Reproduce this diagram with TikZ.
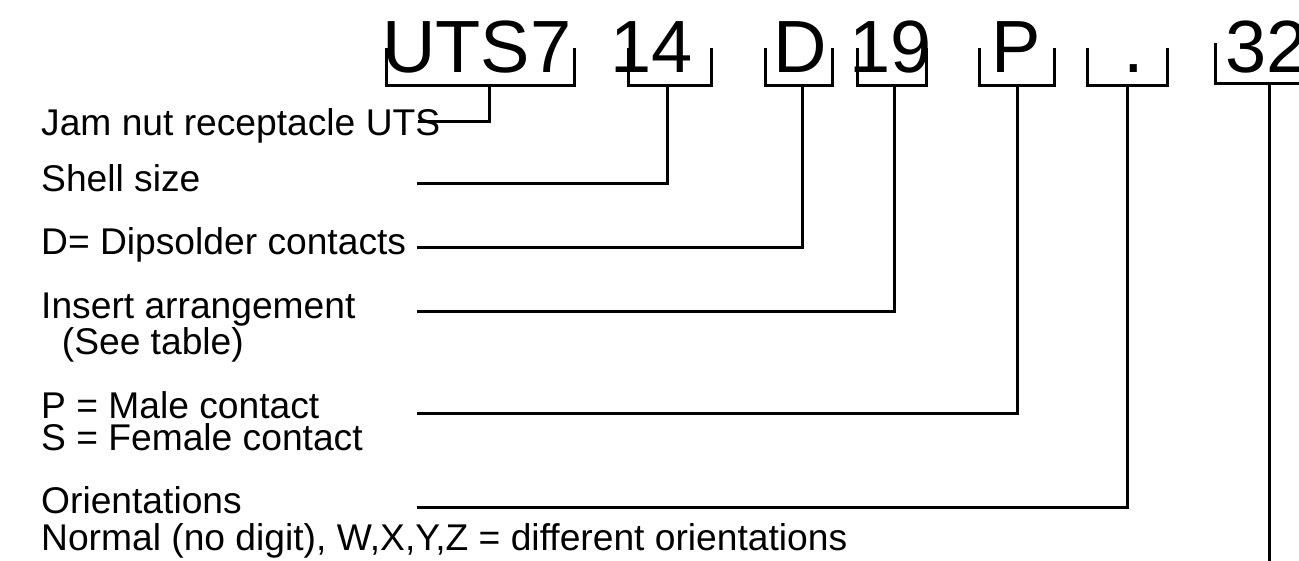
\documentclass[tikz,border=0pt]{standalone}
\usepackage{fontspec}
\setmainfont{Liberation Sans}
\newcommand\twoln[3]{\vtop{\baselineskip=#3\lineskiplimit=-100pt\hbox{#1}\hbox{#2}}}
\begin{document}
\begin{tikzpicture}[x=1pt,y=-1pt,
  big/.style={font=\fontsize{74}{74}\selectfont, inner sep=0pt, anchor=base west},
  lbl/.style={font=\fontsize{37.2}{40}\selectfont, inner sep=0pt, anchor=base west},
  ln/.style={line width=3pt, line join=miter}]
\clip (0,0) rectangle (1299,560);
% code parts
\node[big] (uts) at (382,72) {UTS7};
\node[big] (size) at (610,72) {14};
\node[big] (dip) at (773,72) {D};
\node[big] (ins) at (849,72) {19};
\node[big] (pin) at (991,72) {P};
\node[big] (ori) at (1123,72) {.};
\node[big] (num) at (1225,72) {32};
% labels
\node[lbl] (l1) at (41,135) {Jam nut receptacle UTS};
\node[lbl] (l2) at (41,191) {Shell size};
\node[lbl] (l3) at (41,254) {D= Dipsolder contacts};
\node[lbl] (l4) at (41,318) {\twoln{Insert arrangement}{\ \ (See table)}{36pt}};
\node[lbl] (l5) at (41,418) {\twoln{P = Male contact}{S = Female contact}{32pt}};
\node[lbl] (l6) at (41,513) {\twoln{Orientations}{Normal (no digit), W,X,Y,Z = different orientations}{37pt}};
% bracket stems and line ends
\coordinate (s1) at (489,85); \coordinate (e1) at (418,121);
\coordinate (s2) at (667,85); \coordinate (e2) at (417,183);
\coordinate (s3) at (802,85); \coordinate (e3) at (417,247);
\coordinate (s4) at (894,85); \coordinate (e4) at (417,311);
\coordinate (s5) at (1017,85); \coordinate (e5) at (417,413);
\coordinate (s6) at (1127,85); \coordinate (e6) at (417,507);
\coordinate (s7) at (1269,83); \coordinate (e7) at (1269,565);
% brackets
\draw[ln] (386,48) |- (574,85) -- (574,48);
\draw[ln] (628,48) |- (711,85) -- (711,48);
\draw[ln] (765,48) |- (832,85) -- (832,48);
\draw[ln] (857,48) |- (926,85) -- (926,48);
\draw[ln] (979,48) |- (1054,85) -- (1054,48);
\draw[ln] (1087,48) |- (1167,85) -- (1167,48);
\draw[ln] (1215,43) |- (1310,83);
% connectors
\draw[ln] (s1) |- (e1);
\draw[ln] (s2) |- (e2);
\draw[ln] (s3) |- (e3);
\draw[ln] (s4) |- (e4);
\draw[ln] (s5) |- (e5);
\draw[ln] (s6) |- (e6);
\draw[ln] (s7) -- (e7);
\end{tikzpicture}
\end{document}
